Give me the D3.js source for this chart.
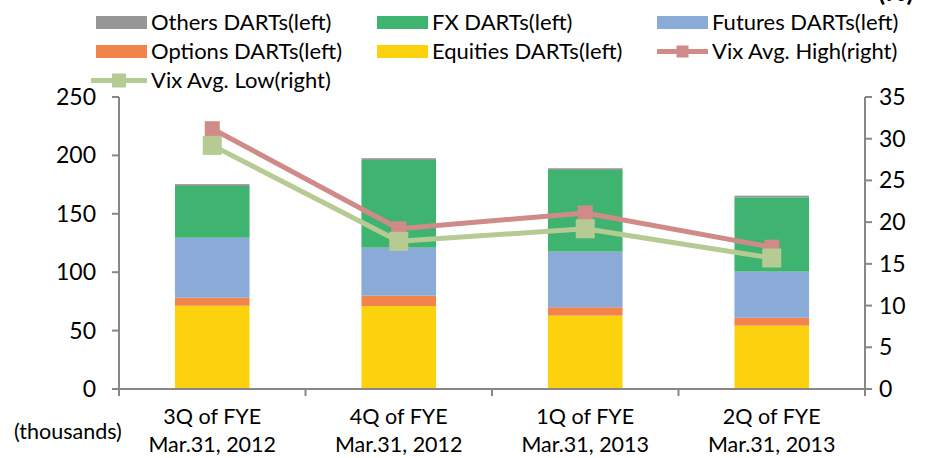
<!DOCTYPE html>
<html><head><meta charset="utf-8">
<script src="https://cdn.jsdelivr.net/npm/d3@7"></script>
<style>
body{margin:0;background:#fff}
text{font-family:Lato,"Liberation Sans",sans-serif;fill:#000}
</style>
</head><body>
<svg id="chart" width="930" height="458"></svg>
<script>
// Quarterly DARTs (thousands, stacked, left axis) with VIX averages (right axis)
const categories = ["3Q of FYE|Mar.31, 2012", "4Q of FYE|Mar.31, 2012", "1Q of FYE|Mar.31, 2013", "2Q of FYE|Mar.31, 2013"];
const equities = [71.3, 71.0, 62.8, 54.2];
const options = [6.9, 8.9, 7.2, 6.8];
const futures = [51.3, 41.1, 47.6, 39.5];
const fx = [44.3, 75.1, 69.9, 63.6];
const others = [1.6, 1.5, 1.5, 1.4];
const vixHigh = [31.2, 19.2, 21.1, 17.0];
const vixLow = [29.2, 17.7, 19.2, 15.7];
const leftTicks = [0, 50, 100, 150, 200, 250];
const rightTicks = [0, 5, 10, 15, 20, 25, 30, 35];

const seriesNames = ["Equities", "Options", "Futures", "FX", "Others"];
const seriesValues = [equities, options, futures, fx, others];
const colors = {Equities: "#fcd20f", Options: "#f0844a", Futures: "#8aaad8", FX: "#3fb370", Others: "#969696"};
const highColor = "#d08b89", lowColor = "#b6cb93", axisColor = "#878787";

const svg = d3.select("#chart");
const L = 119, R = 865, T = 97, B = 389;

const x = d3.scaleBand().domain(categories).range([L, R]).paddingInner(0.6).paddingOuter(0.3);
const yL = d3.scaleLinear().domain([0, 250]).range([B, T]);
const yR = d3.scaleLinear().domain([0, 35]).range([B, T]);

const rows = categories.map((c, i) => {
  const r = {cat: c};
  seriesNames.forEach((s, k) => r[s] = seriesValues[k][i]);
  return r;
});
const stacked = d3.stack().keys(seriesNames)(rows);

// stacked bars
svg.append("g").selectAll("g").data(stacked).join("g")
  .attr("fill", d => colors[d.key])
  .selectAll("rect").data(d => d).join("rect")
  .attr("x", d => x(d.data.cat))
  .attr("width", x.bandwidth())
  .attr("y", d => yL(d[1]))
  .attr("height", d => yL(d[0]) - yL(d[1]));

// axes
const axes = svg.append("g").attr("stroke", axisColor).attr("stroke-width", 2);
axes.append("line").attr("x1", L).attr("x2", L).attr("y1", T).attr("y2", B);
axes.append("line").attr("x1", R).attr("x2", R).attr("y1", T).attr("y2", B);
axes.append("line").attr("x1", L).attr("x2", R).attr("y1", B).attr("y2", B);
axes.selectAll(".tl").data(leftTicks).join("line")
  .attr("x1", L - 7).attr("x2", L).attr("y1", d => yL(d)).attr("y2", d => yL(d));
axes.selectAll(".tr").data(rightTicks).join("line")
  .attr("x1", R).attr("x2", R + 7).attr("y1", d => yR(d)).attr("y2", d => yR(d));
const bounds = d3.range(categories.length + 1).map(i => L + i * x.step());
axes.selectAll(".tx").data(bounds).join("line")
  .attr("x1", d => d).attr("x2", d => d).attr("y1", B).attr("y2", B + 7);

const fs = 23;
svg.append("g").selectAll("text").data(leftTicks).join("text")
  .attr("x", 96).attr("y", d => yL(d)).attr("dy", "0.35em")
  .attr("text-anchor", "end").attr("font-size", fs).text(d => d);
svg.append("g").selectAll("text").data(rightTicks).join("text")
  .attr("x", 879).attr("y", d => yR(d)).attr("dy", "0.35em")
  .attr("text-anchor", "start").attr("font-size", fs).text(d => d);

const cx = c => x(c) + x.bandwidth() / 2;
const catLabels = svg.append("g").selectAll("text").data(categories).join("text")
  .attr("text-anchor", "middle").attr("font-size", 21.5);
catLabels.append("tspan").attr("x", cx).attr("y", 424).text(d => d.split("|")[0]);
catLabels.append("tspan").attr("x", cx).attr("y", 452).text(d => d.split("|")[1]);
svg.append("text").attr("x", 14).attr("y", 439).attr("font-size", 21.5).text("(thousands)");

// VIX lines
function drawLine(vals, color, size) {
  const pts = vals.map((v, i) => [cx(categories[i]), yR(v)]);
  svg.append("path").attr("d", d3.line()(pts)).attr("fill", "none")
    .attr("stroke", color).attr("stroke-width", 5).attr("stroke-linejoin", "round");
  svg.append("g").selectAll("rect").data(pts).join("rect")
    .attr("x", p => p[0] - size / 2).attr("y", p => p[1] - size / 2)
    .attr("width", size).attr("height", size).attr("fill", color);
}
drawLine(vixHigh, highColor, 15);
drawLine(vixLow, lowColor, 19);

// legend
const legend = [
  {label: "Others DARTs(left)", type: "bar", color: colors.Others, col: 0, row: 0},
  {label: "FX DARTs(left)", type: "bar", color: colors.FX, col: 1, row: 0},
  {label: "Futures DARTs(left)", type: "bar", color: colors.Futures, col: 2, row: 0},
  {label: "Options DARTs(left)", type: "bar", color: colors.Options, col: 0, row: 1},
  {label: "Equities DARTs(left)", type: "bar", color: colors.Equities, col: 1, row: 1},
  {label: "Vix Avg. High(right)", type: "line", color: highColor, col: 2, row: 1, size: 12},
  {label: "Vix Avg. Low(right)", type: "line", color: lowColor, col: 0, row: 2, size: 14, x0: 91}
];
const colX = [96, 377, 657], rowY = [22.5, 51.5, 80.5];
const lg = svg.append("g");
legend.forEach(d => {
  const x0 = d.x0 !== undefined ? d.x0 : colX[d.col];
  const xEnd = colX[d.col] + 51;
  const y0 = rowY[d.row];
  if (d.type === "bar") {
    lg.append("rect").attr("x", x0).attr("y", y0 - 6.5).attr("width", 51).attr("height", 13).attr("fill", d.color);
  } else {
    lg.append("line").attr("x1", x0).attr("x2", xEnd).attr("y1", y0).attr("y2", y0)
      .attr("stroke", d.color).attr("stroke-width", 5);
    lg.append("rect").attr("x", (x0 + xEnd) / 2 - d.size / 2).attr("y", y0 - d.size / 2)
      .attr("width", d.size).attr("height", d.size).attr("fill", d.color);
  }
  lg.append("text").attr("x", xEnd + 4).attr("y", y0).attr("dy", "0.35em")
    .attr("font-size", 22).text(d.label);
});

// right-axis unit, partly above the top edge
svg.append("text").attr("x", 878).attr("y", 1).attr("font-size", 26).attr("font-weight", "bold").text("(%)");
</script>
</body></html>
